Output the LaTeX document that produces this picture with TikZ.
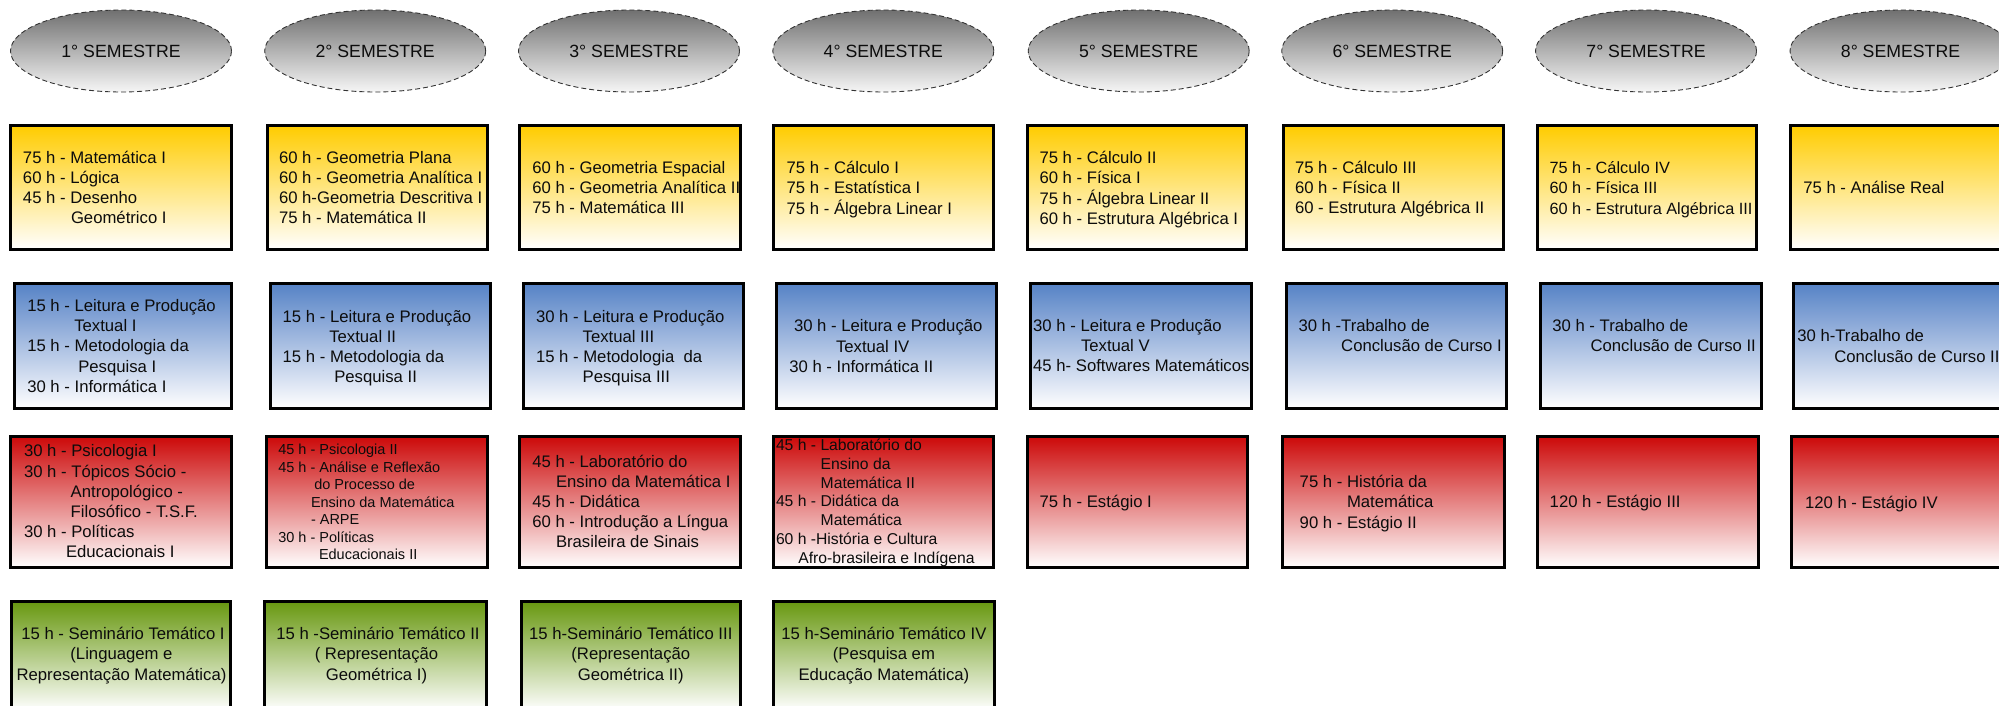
\documentclass[tikz,border=0pt]{standalone}
\usepackage{fontspec}
\setmainfont{Liberation Sans}
\usetikzlibrary{shapes.geometric}
\definecolor{ellTop}{RGB}{112,112,112}
\definecolor{ellBot}{RGB}{246,246,246}
\definecolor{yelTop}{RGB}{255,204,0}
\definecolor{bluTop}{RGB}{86,130,198}
\definecolor{redTop}{RGB}{204,8,8}
\definecolor{grnTop}{RGB}{104,152,16}
\definecolor{txtc}{RGB}{12,12,12}
\newcommand\cell[6]{\node[#2, minimum width={#5-#3-3}, minimum height={#6-#4-3}] (#1) at ({(#3+#5)/2},{(#4+#6)/2}) {};}
\newcommand\tb[1]{\begin{tabular}{@{}l@{}}#1\end{tabular}}
\newcommand\tc[1]{\begin{tabular}{@{}c@{}}#1\end{tabular}}
\newcommand\ind[1]{\hspace*{#1pt}}
\tikzset{
  sem/.style={ellipse, draw=black!80, dash pattern=on 5pt off 3pt, line width=0.9pt,
    top color=ellTop, bottom color=ellBot, minimum width=221, minimum height=82,
    inner sep=0pt, text=txtc, font=\fontsize{17.7}{20}\selectfont},
  cellbase/.style={rectangle, draw=black, line width=3pt, inner sep=0pt, outer sep=0pt},
  ycell/.style={cellbase, top color=yelTop, bottom color=white},
  bcell/.style={cellbase, top color=bluTop, bottom color=white},
  rcell/.style={cellbase, top color=redTop, bottom color=white},
  gcell/.style={cellbase, top color=grnTop, bottom color=white},
  txt/.style={anchor=west, inner sep=0pt, outer sep=0pt, text=txtc, font=\fontsize{16.7}{20.2}\selectfont},
  txtnarrow/.style={txt, font=\fontsize{16.3}{20.6}\selectfont},
  txtsmall/.style={txt, font=\fontsize{14.5}{17.5}\selectfont},
  txtmid/.style={txt, font=\fontsize{15.7}{18.8}\selectfont},
  gtxt/.style={anchor=center, inner sep=0pt, outer sep=0pt, text=txtc, font=\fontsize{16.7}{20.8}\selectfont},
}
\begin{document}
\begin{tikzpicture}[x=1pt,y=-1pt]
\useasboundingbox (0,0) rectangle (1999,706);
% semester ellipses
\node[sem] (s1) at (121,51) {1° SEMESTRE};
\node[sem] (s2) at (375.2,51) {2° SEMESTRE};
\node[sem] (s3) at (629,51) {3° SEMESTRE};
\node[sem] (s4) at (883.3,51) {4° SEMESTRE};
\node[sem] (s5) at (1138.7,51) {5° SEMESTRE};
\node[sem] (s6) at (1392.2,51) {6° SEMESTRE};
\node[sem] (s7) at (1646,51) {7° SEMESTRE};
\node[sem] (s8) at (1900.5,51) {8° SEMESTRE};
% yellow row
\cell{y1}{ycell}{9}{124}{233}{251}
\cell{y2}{ycell}{266}{124}{489}{251}
\cell{y3}{ycell}{518.3}{124}{741.7}{251}
\cell{y4}{ycell}{771.7}{124}{995}{251}
\cell{y5}{ycell}{1025.5}{124}{1248}{251}
\cell{y6}{ycell}{1281.5}{124}{1504.5}{251}
\cell{y7}{ycell}{1536}{124}{1758}{251}
\cell{y8}{ycell}{1789}{124}{2012}{251}
% blue row
\cell{b1}{bcell}{12.7}{282}{232.7}{410}
\cell{b2}{bcell}{268.7}{282}{492}{410}
\cell{b3}{bcell}{521.7}{282}{745}{410}
\cell{b4}{bcell}{775}{282}{998}{410}
\cell{b5}{bcell}{1028.7}{282}{1252.5}{410}
\cell{b6}{bcell}{1285}{282}{1508}{410}
\cell{b7}{bcell}{1539}{282}{1763}{410}
\cell{b8}{bcell}{1792.3}{282}{2015}{410}
% red row
\cell{r1}{rcell}{9.3}{434.5}{232.7}{569}
\cell{r2}{rcell}{265}{434.5}{488.7}{569}
\cell{r3}{rcell}{518}{434.5}{741.7}{569}
\cell{r4}{rcell}{771.7}{434.5}{995}{569}
\cell{r5}{rcell}{1025.5}{434.5}{1248.7}{569}
\cell{r6}{rcell}{1281}{434.5}{1505.7}{569}
\cell{r7}{rcell}{1535.7}{434.5}{1759.6}{569}
\cell{r8}{rcell}{1790}{434.5}{2013}{569}
% green row
\cell{g1}{gcell}{10}{600}{232}{712}
\cell{g2}{gcell}{263.4}{600}{488}{712}
\cell{g3}{gcell}{519.8}{600}{741.7}{712}
\cell{g4}{gcell}{772.3}{600}{995.5}{712}
% yellow texts
\node[txt] (ty1) at (23,189.3) {\tb{75 h - Matemática I\\60 h - Lógica\\45 h - Desenho\\\ind{48}Geométrico I}};
\node[txt] (ty2) at (279,189.3) {\tb{60 h - Geometria Plana\\60 h - Geometria Analítica I\\60 h-Geometria Descritiva I\\75 h - Matemática II}};
\node[txt] (ty3) at (532.3,189.6) {\tb{60 h - Geometria Espacial\\60 h - Geometria Analítica II\\75 h - Matemática III}};
\node[txt] (ty4) at (786.7,189.6) {\tb{75 h - Cálculo I\\75 h - Estatística I\\75 h - Álgebra Linear I}};
\node[txt] (ty5) at (1039.5,189.8) {\tb{75 h - Cálculo II\\60 h - Física I\\75 h - Álgebra Linear II\\60 h - Estrutura Algébrica I}};
\node[txt] (ty6) at (1295,189.3) {\tb{75 h - Cálculo III\\60 h - Física II\\60 - Estrutura Algébrica II}};
\node[txtnarrow] (ty7) at (1549.5,189.8) {\tb{75 h - Cálculo IV\\60 h - Física III\\60 h - Estrutura Algébrica III}};
\node[txt] (ty8) at (1803.3,189) {\tb{75 h - Análise Real}};
% blue texts
\node[txt] (tb1) at (27.3,347.8) {\tb{15 h - Leitura e Produção\\\ind{47}Textual I\\15 h - Metodologia da\\\ind{51}Pesquisa I\\30 h - Informática I}};
\node[txt] (tb2) at (282.7,348.3) {\tb{15 h - Leitura e Produção\\\ind{46.6}Textual II\\15 h - Metodologia da\\\ind{51.6}Pesquisa II}};
\node[txt] (tb3) at (536,348.3) {\tb{30 h - Leitura e Produção\\\ind{46.7}Textual III\\15 h - Metodologia\ \ da\\\ind{46.7}Pesquisa III}};
\node[txt] (tb4) at (789.3,348) {\tb{\ind{4.7}30 h - Leitura e Produção\\\ind{46.7}Textual IV\\30 h - Informática II}};
\node[txt] (tb5) at (1033.2,347.6) {\tb{30 h - Leitura e Produção\\\ind{47.8}Textual V\\45 h- Softwares Matemáticos}};
\node[txt] (tb6) at (1298.5,337.6) {\tb{30 h -Trabalho de\\\ind{42.7}Conclusão de Curso I}};
\node[txt] (tb7) at (1552.3,337.6) {\tb{30 h - Trabalho de\\\ind{38.3}Conclusão de Curso II}};
\node[txt] (tb8) at (1797.3,348) {\tb{30 h-Trabalho de\\\ind{37}Conclusão de Curso II}};
% red texts
\node[txt] (tr1) at (24,503.3) {\tb{30 h - Psicologia I\\30 h - Tópicos Sócio -\\\ind{46.7}Antropológico -\\\ind{46.7}Filosófico - T.S.F.\\30 h - Políticas\\\ind{42}Educacionais I}};
\node[txtsmall] (tr2) at (278.3,503.8) {\tb{45 h - Psicologia II\\45 h - Análise e Reflexão\\\ind{36}do Processo de\\\ind{32.7}Ensino da Matemática\\\ind{32.7}- ARPE\\30 h - Políticas\\\ind{40.7}Educacionais II}};
\node[txt] (tr3) at (532.3,503.5) {\tb{45 h - Laboratório do\\\ind{23.7}Ensino da Matemática I\\45 h - Didática\\60 h - Introdução a Língua\\\ind{23.7}Brasileira de Sinais}};
\node[txtmid] (tr4) at (776,503.2) {\tb{45 h - Laboratório do\\\ind{44.7}Ensino da\\\ind{44.7}Matemática II\\45 h - Didática da\\\ind{44.7}Matemática\\60 h -História e Cultura\\\ind{22.3}Afro-brasileira e Indígena}};
\node[txt] (tr5) at (1039.5,503.3) {\tb{75 h - Estágio I}};
\node[txt] (tr6) at (1299.7,503.8) {\tb{75 h - História da\\\ind{47.3}Matemática\\90 h - Estágio II}};
\node[txt] (tr7) at (1549.7,503.3) {\tb{120 h - Estágio III}};
\node[txt] (tr8) at (1805,504) {\tb{120 h - Estágio IV}};
% green texts
\node[gtxt] (tg1) at (121.5,655.7) {\tc{\ind{3}15 h - Seminário Temático I\\(Linguagem e\\Representação Matemática)}};
\node[gtxt] (tg2) at (376.5,655.7) {\tc{\ind{3}15 h -Seminário Temático II\\( Representação\\Geométrica I)}};
\node[gtxt] (tg3) at (630.8,655.7) {\tc{15 h-Seminário Temático III\\(Representação\\Geométrica II)}};
\node[gtxt] (tg4) at (883.9,655.7) {\tc{15 h-Seminário Temático IV\\(Pesquisa em\\Educação Matemática)}};
\end{tikzpicture}
\end{document}
